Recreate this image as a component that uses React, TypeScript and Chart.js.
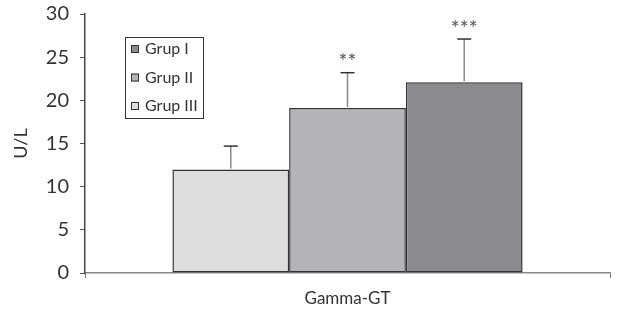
import React, { useEffect, useRef } from "react";
import { Chart, registerables } from "chart.js";

Chart.register(...registerables);

const categories = ["Gamma-GT"];
const groupLabels = ["Grup III", "Grup II", "Grup I"];
const groupMeans = [12.0, 19.1, 22.1];
const groupErrors = [2.7, 4.1, 5.0];
const significance = ["", "**", "***"];
const groupColors = ["#dcdddf", "#b3b4b7", "#8a8b8f"];
const yTicks = [0, 5, 10, 15, 20, 25, 30];
const yTitle = "U/L";

const FONT = "Lato, 'Open Sans', sans-serif";

const errorBarPlugin = {
  id: "errorBars",
  afterDatasetsDraw(chart: any) {
    const ctx = chart.ctx;
    const yScale = chart.scales.y;
    chart.data.datasets.forEach((ds: any, i: number) => {
      const meta = chart.getDatasetMeta(i);
      meta.data.forEach((bar: any, j: number) => {
        const v = ds.data[j];
        const err = groupErrors[i];
        const x = bar.x;
        const yTop = yScale.getPixelForValue(v + err);
        const yBar = yScale.getPixelForValue(v);
        ctx.save();
        ctx.strokeStyle = "#8a8a8a";
        ctx.lineWidth = 1.5;
        ctx.beginPath();
        ctx.moveTo(x, yBar - 1);
        ctx.lineTo(x, yTop);
        ctx.stroke();
        ctx.strokeStyle = "#333";
        ctx.beginPath();
        ctx.moveTo(x - 7, yTop);
        ctx.lineTo(x + 7, yTop);
        ctx.stroke();
        const s = significance[i];
        if (s) {
          ctx.fillStyle = "#555";
          ctx.font = `21px ${FONT}`;
          ctx.textAlign = "center";
          ctx.textBaseline = "middle";
          ctx.fillText(s, x, yTop - 10);
        }
        ctx.restore();
      });
    });
  },
};

const legendPlugin = {
  id: "boxLegend",
  afterDraw(chart: any) {
    const ctx = chart.ctx;
    const area = chart.chartArea;
    const left = area.left + 40;
    const top = area.top + 23;
    const w = 78;
    const h = 81;
    ctx.save();
    ctx.strokeStyle = "#333";
    ctx.lineWidth = 1;
    ctx.strokeRect(left + 0.5, top + 0.5, w, h);
    const order = [2, 1, 0];
    ctx.font = `16px ${FONT}`;
    ctx.textBaseline = "middle";
    ctx.textAlign = "left";
    order.forEach((di, k) => {
      const cy = top + 12 + k * 28.5;
      ctx.fillStyle = groupColors[di];
      ctx.fillRect(left + 6, cy - 4, 8, 8);
      ctx.strokeStyle = "#333";
      ctx.strokeRect(left + 6.5, cy - 3.5, 7, 7);
      ctx.fillStyle = "#333";
      ctx.fillText(groupLabels[di], left + 20, cy);
    });
    ctx.restore();
  },
};

export default function App() {
  const ref = useRef<HTMLCanvasElement>(null);
  useEffect(() => {
    if (!ref.current) return;
    const chart = new Chart(ref.current, {
      type: "bar",
      data: {
        labels: categories,
        datasets: groupLabels.map((label, i) => ({
          label,
          data: [groupMeans[i]],
          backgroundColor: groupColors[i],
          borderColor: "#333",
          borderWidth: 1.5,
          borderSkipped: false,
          barPercentage: 1,
          categoryPercentage: 0.667,
        })),
      },
      options: {
        animation: false,
        responsive: false,
        maintainAspectRatio: false,
        layout: { padding: { left: 0, right: 9, top: 14, bottom: 0 } },
        plugins: {
          legend: { display: false },
          tooltip: { enabled: false },
        },
        scales: {
          x: {
            grid: {
              display: true,
              drawOnChartArea: false,
              tickLength: 5,
              color: "#777",
            },
            border: { color: "#888", width: 1.5 },
            ticks: {
              color: "#333",
              font: { family: FONT, size: 17 },
              padding: 10,
            },
            afterFit(scale: any) {
              scale.height = 43;
              scale.paddingLeft = 0;
              scale.paddingRight = 0;
            },
          },
          y: {
            min: 0,
            max: 30,
            afterBuildTicks(scale: any) {
              scale.ticks = yTicks.map((v) => ({ value: v }));
            },
            grid: {
              display: true,
              drawOnChartArea: false,
              tickLength: 5,
              color: "#555",
            },
            border: { color: "#444", width: 1.5 },
            ticks: {
              color: "#333",
              font: { family: FONT, size: 20 },
              padding: 11,
            },
            title: {
              display: true,
              text: yTitle,
              color: "#333",
              font: { family: FONT, size: 18 },
              padding: { top: 10, bottom: 4 },
            },
            afterFit(scale: any) {
              scale.width = 85;
              scale.paddingTop = 0;
              scale.paddingBottom = 0;
            },
          },
        },
      },
      plugins: [errorBarPlugin, legendPlugin],
    });
    return () => chart.destroy();
  }, []);
  return (
    <div style={{ position: "absolute", left: 0, top: 0, width: 619, height: 316, background: "#fff" }}>
      <canvas ref={ref} width={619} height={316} style={{ width: 619, height: 316 }} />
    </div>
  );
}
